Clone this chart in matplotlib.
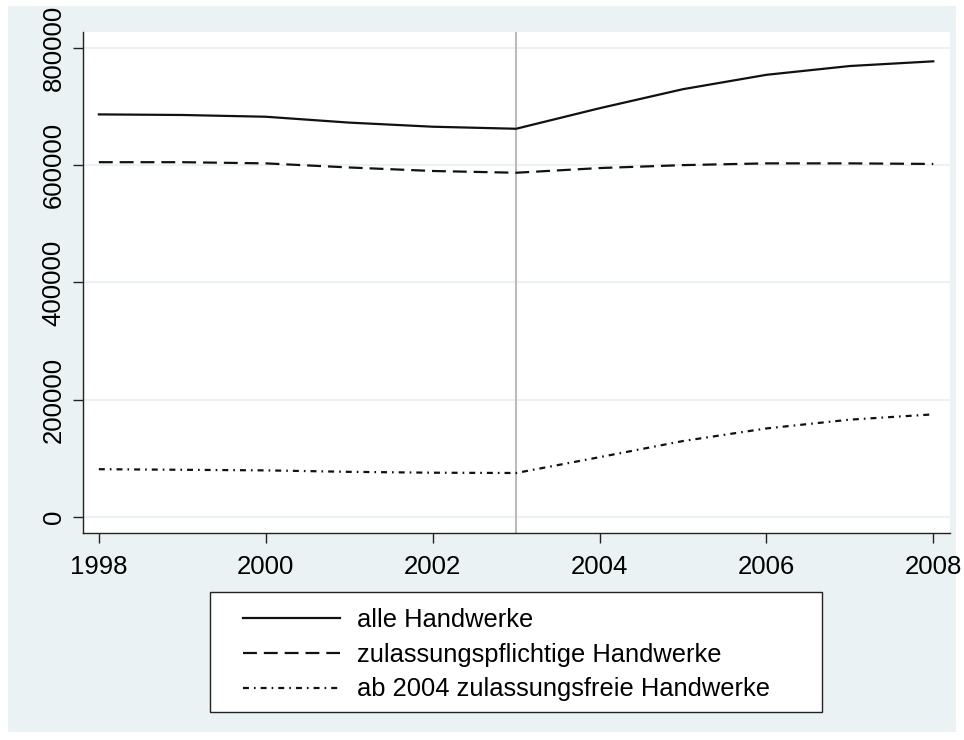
import matplotlib
matplotlib.use("Agg")
import matplotlib.pyplot as plt
from matplotlib.patches import Rectangle

plt.rcParams['font.family'] = ['Liberation Sans', 'DejaVu Sans']

years = [1998, 1999, 2000, 2001, 2002, 2003, 2004, 2005, 2006, 2007, 2008]
alle = [686500, 685500, 682500, 672500, 665500, 662000, 697000, 729500, 754000, 769000, 777000]
pflichtig = [605000, 605000, 603000, 596000, 590000, 587000, 595000, 600000, 603000, 603000, 602000]
frei = [81500, 80500, 79500, 77000, 75500, 75000, 102000, 129500, 151000, 166000, 175000]
labels = ["alle Handwerke", "zulassungspflichtige Handwerke", "ab 2004 zulassungsfreie Handwerke"]
xticks = [1998, 2000, 2002, 2004, 2006, 2008]
yticks = [0, 200000, 400000, 600000, 800000]
reform_year = 2003

W, H = 964, 740
fig = plt.figure(figsize=(W / 100, H / 100), dpi=100, facecolor='white')
bg = '#EAF2F3'
fig.patches.append(Rectangle((8 / W, 1 - 732 / H), (956 - 8) / W, (732 - 6) / H,
                             transform=fig.transFigure, facecolor=bg, edgecolor='none', zorder=-10))

ax = fig.add_axes([83 / W, 1 - 533 / H, (950 - 83) / W, (533 - 32) / H])
ax.set_facecolor('white')

lw = 1.6
ax.plot(years, alle, color='#111111', lw=lw, linestyle='-', label=labels[0], zorder=3)
ax.plot(years, pflichtig, color='#111111', lw=lw, linestyle=(0, (10 / lw, 5 / lw)), label=labels[1], zorder=3)
ax.plot(years, frei, color='#111111', lw=lw,
        linestyle=(0, (4.3 / lw, 3.6 / lw, 1.2 / lw, 3.6 / lw)), label=labels[2], zorder=3)

ax.axvline(reform_year, color='#BBBBBB', lw=1.5, zorder=2)

ax.set_xlim(1997.81, 2008.2)
ax.set_ylim(-27300, 827000)
ax.set_xticks(xticks)
ax.set_xticklabels([str(v) for v in xticks])
ax.set_yticks(yticks)
ax.set_yticklabels([str(v) for v in yticks], rotation=90, va='center')
ax.grid(axis='y', color='#EAF2F3', lw=1.5, zorder=1)
ax.grid(axis='x', visible=False)

for s in ['top', 'right']:
    ax.spines[s].set_visible(False)
for s in ['left', 'bottom']:
    ax.spines[s].set_color('#222222')
    ax.spines[s].set_linewidth(1.0)

ax.tick_params(axis='both', length=7.5, width=1.0, color='#222222', labelsize=18.5, pad=8)
ax.tick_params(axis='y', pad=5)

# legend frame
fig.patches.append(Rectangle((210 / W, 1 - 712 / H), (822 - 210) / W, (712 - 592) / H,
                             transform=fig.transFigure, facecolor='white', edgecolor='#222222',
                             lw=1.0, zorder=5))
leg = fig.legend(loc='upper left', bbox_to_anchor=(243 / W, 1 - 608 / H),
                 ncols=1, fontsize=18.4, frameon=False,
                 handlelength=3.8, handletextpad=0.66, borderpad=0, labelspacing=0.42,
                 borderaxespad=0)
leg.set_zorder(6)

fig.savefig('out.png', dpi=100, facecolor='white')
